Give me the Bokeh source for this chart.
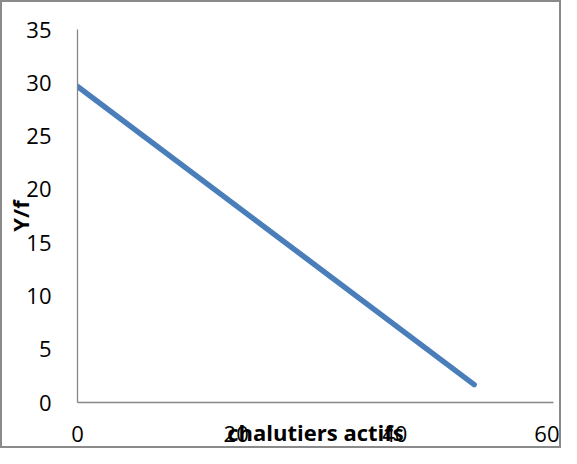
from bokeh.plotting import figure
from bokeh.models import Range1d, FixedTicker
from bokeh.embed import file_html
from bokeh.resources import INLINE

# data
chalutiers = [0, 50]
y_over_f = [29.66, 1.68]
x_ticks = [0, 20, 40, 60]
y_ticks = [0, 5, 10, 15, 20, 25, 30, 35]

FONT = "Open Sans"
AXIS_COLOR = "#868686"

p = figure(width=561, height=448, output_backend="svg", toolbar_location=None,
           x_range=Range1d(0, 60), y_range=Range1d(0, 35),
           min_border_left=71, min_border_right=10, min_border_top=27, min_border_bottom=48)

p.styles = {"border": "2px solid #8a8a8a", "box-sizing": "border-box"}
p.outline_line_color = None
p.grid.visible = False

p.line(chalutiers, y_over_f, line_color="#4a7ebb", line_width=5.5, line_cap="round")

for ax in (p.xaxis[0], p.yaxis[0]):
    ax.axis_line_color = AXIS_COLOR
    ax.axis_line_width = 1.3
    ax.major_tick_line_color = None
    ax.minor_tick_line_color = None
    ax.major_tick_out = 0
    ax.major_tick_in = 0
    ax.major_label_text_font = FONT
    ax.major_label_text_font_size = "22px"
    ax.major_label_text_color = "#000000"
    ax.axis_label_text_font = FONT
    ax.axis_label_text_font_size = "22px"
    ax.axis_label_text_font_style = "bold"
    ax.axis_label_text_color = "#000000"

p.xaxis.ticker = FixedTicker(ticks=x_ticks)
p.yaxis.ticker = FixedTicker(ticks=y_ticks)
p.xaxis.major_label_standoff = 23
p.yaxis.major_label_standoff = 26
p.xaxis.axis_label = "chalutiers actifs"
p.yaxis.axis_label = "Y/f"
p.xaxis.axis_label_standoff = -28
p.yaxis.axis_label_standoff = -12

open("out.html", "w").write(file_html(p, INLINE))
